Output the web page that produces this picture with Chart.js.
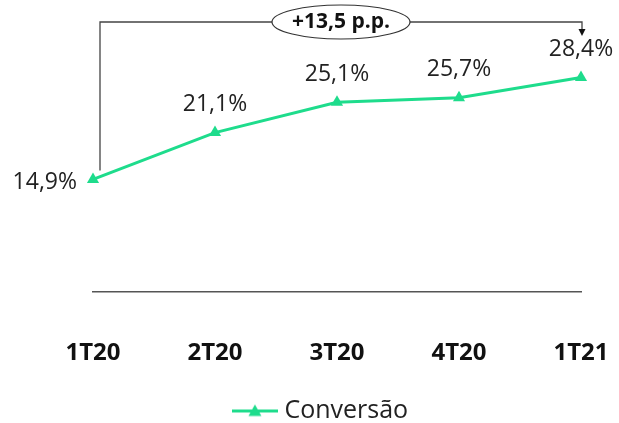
<!DOCTYPE html>
<html>
<head>
<meta charset="utf-8">
<script src="https://cdn.jsdelivr.net/npm/chart.js@4/dist/chart.umd.min.js"></script>
<style>
  html, body { margin: 0; padding: 0; background: #fff; }
  #wrap { width: 619px; height: 423px; position: relative; }
</style>
</head>
<body>
<div id="wrap"><canvas id="c"></canvas></div>
<script>
const categories = ['1T20', '2T20', '3T20', '4T20', '1T21'];
const conversao = [14.9, 21.1, 25.1, 25.7, 28.4];
const seriesName = 'Conversão';
const deltaLabel = '+13,5 p.p.';

const GREEN = '#1edc8c';
const TEXT = '#222222';
const FONT = "'Open Sans', 'Noto Sans', sans-serif";

const fmt = v => v.toFixed(1).replace('.', ',') + '%';

// Legend marker: a short line with a triangle in the middle
const marker = document.createElement('canvas');
marker.width = 46; marker.height = 14;
(function () {
  const g = marker.getContext('2d');
  g.strokeStyle = GREEN; g.lineWidth = 3;
  g.beginPath(); g.moveTo(0, 7.5); g.lineTo(46, 7.5); g.stroke();
  g.fillStyle = GREEN;
  g.beginPath(); g.moveTo(23, 1); g.lineTo(29.5, 12.5); g.lineTo(16.5, 12.5); g.closePath(); g.fill();
})();

// Value labels above each point (first one to the left)
const valueLabels = {
  id: 'valueLabels',
  afterDatasetsDraw(chart) {
    const ctx = chart.ctx;
    const meta = chart.getDatasetMeta(0);
    ctx.save();
    ctx.font = '23px ' + FONT;
    ctx.fillStyle = TEXT;
    ctx.textBaseline = 'middle';
    meta.data.forEach((pt, i) => {
      const txt = fmt(conversao[i]);
      if (i === 0) {
        ctx.textAlign = 'right';
        ctx.fillText(txt, pt.x - 16, pt.y + 3);
      } else {
        ctx.textAlign = 'center';
        ctx.fillText(txt, pt.x, pt.y - 28);
      }
    });
    ctx.restore();
  }
};

// Bracket showing the change between first and last quarter
const bracket = {
  id: 'bracket',
  afterDatasetsDraw(chart) {
    const ctx = chart.ctx;
    const meta = chart.getDatasetMeta(0);
    const p0 = meta.data[0], pN = meta.data[meta.data.length - 1];
    const top = chart.chartArea.top + 2;
    const xL = p0.x + 7, xR = pN.x + 1;
    const cx = (xL + xR) / 2, rx = 69, ry = 17;
    ctx.save();
    ctx.strokeStyle = '#444'; ctx.lineWidth = 1.3;
    ctx.beginPath();
    ctx.moveTo(xL, p0.y - 9); ctx.lineTo(xL, top); ctx.lineTo(cx - rx, top);
    ctx.moveTo(cx + rx, top); ctx.lineTo(xR, top); ctx.lineTo(xR, top + 8);
    ctx.stroke();
    ctx.fillStyle = '#111';
    ctx.beginPath(); ctx.moveTo(xR - 3.5, top + 7); ctx.lineTo(xR + 3.5, top + 7); ctx.lineTo(xR, top + 14); ctx.closePath(); ctx.fill();
    ctx.beginPath(); ctx.ellipse(cx, top, rx, ry, 0, 0, Math.PI * 2);
    ctx.fillStyle = '#fff'; ctx.fill();
    ctx.strokeStyle = '#333'; ctx.lineWidth = 1.2; ctx.stroke();
    ctx.fillStyle = '#111';
    ctx.font = 'bold 21px ' + FONT;
    ctx.textAlign = 'center'; ctx.textBaseline = 'middle';
    ctx.fillText(deltaLabel, cx, top);
    ctx.restore();
  }
};

new Chart(document.getElementById('c'), {
  type: 'line',
  data: {
    labels: categories,
    datasets: [{
      label: seriesName,
      data: conversao,
      borderColor: GREEN,
      backgroundColor: GREEN,
      borderWidth: 3,
      pointStyle: 'triangle',
      pointRadius: 7,
      pointBorderWidth: 0,
      tension: 0
    }]
  },
  options: {
    responsive: true,
    maintainAspectRatio: false,
    animation: false,
    layout: { padding: { left: 65, right: 38, top: 20, bottom: -10 } },
    scales: {
      x: {
        offset: false,
        afterFit(scale) { scale.height = 102; },
        grid: { display: true, drawOnChartArea: false, drawTicks: true, tickLength: 44, tickColor: 'rgba(0,0,0,0)' },
        border: { display: true, color: '#555', width: 1.5 },
        ticks: { color: '#111', font: { family: FONT, size: 24, weight: 'bold' }, padding: 3, maxRotation: 0 }
      },
      y: {
        min: 0, max: 36,
        afterFit(scale) { scale.width = 28; },
        grid: { display: false },
        border: { display: false },
        ticks: { display: false }
      }
    },
    plugins: {
      legend: {
        position: 'bottom',
        labels: {
          usePointStyle: true,
          pointStyleWidth: 34,
          color: TEXT,
          font: { family: FONT, size: 25 },
          padding: 4,
          generateLabels(chart) {
            return [{
              text: seriesName,
              pointStyle: marker,
              fillStyle: GREEN,
              strokeStyle: GREEN,
              lineWidth: 0,
              fontColor: TEXT,
              datasetIndex: 0
            }];
          }
        }
      },
      tooltip: { enabled: false }
    }
  },
  plugins: [valueLabels, bracket]
});
</script>
</body>
</html>
